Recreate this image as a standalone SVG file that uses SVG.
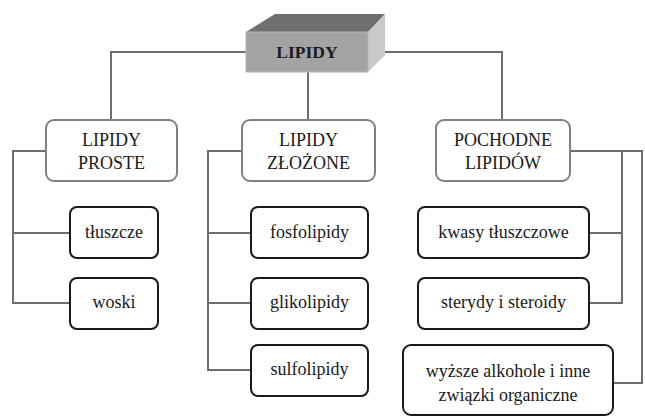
<svg xmlns="http://www.w3.org/2000/svg" width="645" height="417" viewBox="0 0 645 417">
<style>
.lbl{font-family:'Liberation Serif','Times New Roman',serif;font-size:18px;fill:#1a1a1a;text-anchor:middle}
.cat{fill:#fff;stroke:#808080;stroke-width:2}
.leaf{fill:#fff;stroke:#1a1a1a;stroke-width:2}
.con{fill:none;stroke:#6e6e6e;stroke-width:2}
</style>
<rect width="645" height="417" fill="#fff"/>
<g id="connectors">
<path class="con" d="M111,120 V52 H246 M385,52 H502 V120 M308,72 V120"/>
<path class="con" d="M46,151 H13 V303 H70 M13,233 H70"/>
<path class="con" d="M242,151 H208 V370 H251 M208,233 H251 M208,303 H251"/>
<path class="con" d="M570,151 H642 V383 H613 M622,151 V303 H589 M622,233 H589"/>
</g>
<g id="lipidy">
<polygon points="246,32 275,14 385,14 368,32" fill="#6f6f6f"/>
<polygon points="368,32 385,14 385,55 368,72" fill="#c9c9c9"/>
<rect x="246" y="32" width="122" height="40" fill="#a3a3a3" stroke="#b5b5b5" stroke-width="1"/>
<text x="307" y="58" class="lbl" style="font-weight:bold;font-size:17.5px">LIPIDY</text>
</g>
<g id="proste">
<rect class="cat" x="46" y="120" width="131" height="61" rx="8"/>
<text class="lbl" x="111.5" y="146">LIPIDY</text>
<text class="lbl" x="111.5" y="169">PROSTE</text>
</g>
<g id="zlozone">
<rect class="cat" x="242" y="120" width="133" height="61" rx="8"/>
<text class="lbl" x="308.5" y="146">LIPIDY</text>
<text class="lbl" x="308.5" y="169">ZŁOŻONE</text>
</g>
<g id="pochodne">
<rect class="cat" x="436" y="120" width="134" height="61" rx="8"/>
<text class="lbl" x="503" y="146">POCHODNE</text>
<text class="lbl" x="503" y="169">LIPIDÓW</text>
</g>
<g id="tluszcze">
<rect class="leaf" x="70" y="207" width="88" height="51" rx="7"/>
<text class="lbl" x="114" y="238">tłuszcze</text>
</g>
<g id="woski">
<rect class="leaf" x="70" y="278" width="88" height="51" rx="7"/>
<text class="lbl" x="114" y="308">woski</text>
</g>
<g id="fosfolipidy">
<rect class="leaf" x="251" y="207" width="117" height="51" rx="7"/>
<text class="lbl" x="309.5" y="238">fosfolipidy</text>
</g>
<g id="glikolipidy">
<rect class="leaf" x="251" y="278" width="117" height="51" rx="7"/>
<text class="lbl" x="309.5" y="308">glikolipidy</text>
</g>
<g id="sulfolipidy">
<rect class="leaf" x="251" y="345" width="117" height="51" rx="7"/>
<text class="lbl" x="309.5" y="375">sulfolipidy</text>
</g>
<g id="kwasy">
<rect class="leaf" x="418" y="207" width="171" height="51" rx="7"/>
<text class="lbl" x="503.5" y="238">kwasy tłuszczowe</text>
</g>
<g id="sterydy">
<rect class="leaf" x="418" y="278" width="171" height="51" rx="7"/>
<text class="lbl" x="503.5" y="308">sterydy i steroidy</text>
</g>
<g id="wyzsze">
<rect class="leaf" x="403" y="345" width="210" height="70" rx="8"/>
<text class="lbl" x="508" y="377">wyższe alkohole i inne</text>
<text class="lbl" x="508" y="401">związki organiczne</text>
</g>
</svg>
